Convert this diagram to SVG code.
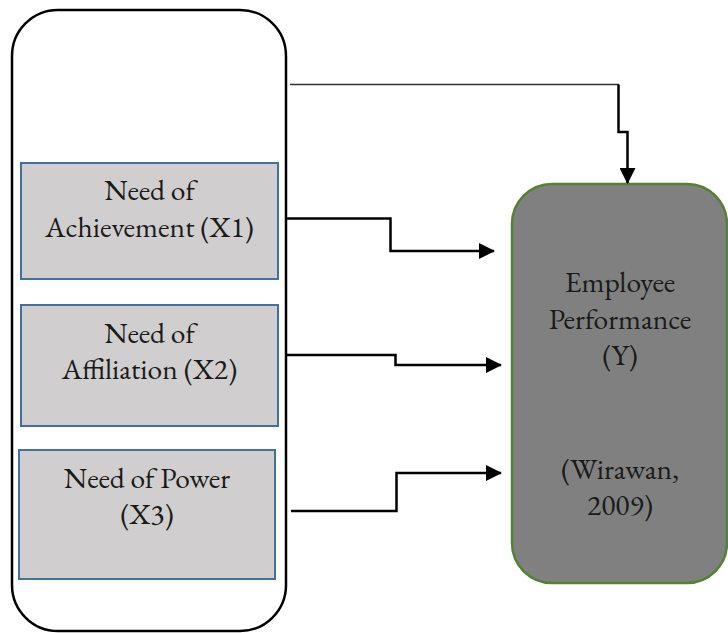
<svg xmlns="http://www.w3.org/2000/svg" width="728" height="633" viewBox="0 0 728 633">
<defs>
<marker id="arrB" viewBox="0 0 16 16" markerWidth="16" markerHeight="16" refX="15" refY="8" orient="auto" markerUnits="userSpaceOnUse">
<path d="M0,0 L16,8 L0,16 z" fill="#000"/>
</marker>
<style>
.t{font-family:"EB Garamond","Liberation Serif","Times New Roman",serif;font-size:29.5px;fill:#1a1a1a;text-anchor:middle}
.box{fill:#d0cece;stroke:#41719c;stroke-width:2}
.c{fill:none;stroke:#000;stroke-width:2.5}
</style>
</defs>
<rect width="728" height="633" fill="#fff"/>
<g id="outer">
<rect x="12" y="10" width="274" height="621" rx="46" ry="46" fill="#fff" stroke="#000" stroke-width="2.5"/>
</g>
<g id="x1">
<rect class="box" x="21" y="163" width="257" height="116"/>
<text class="t" x="149.5" y="200">Need of</text>
<text class="t" x="149.5" y="237">Achievement (X1)</text>
</g>
<g id="x2">
<rect class="box" x="21" y="305" width="257" height="121"/>
<text class="t" x="149.5" y="343">Need of</text>
<text class="t" x="149.5" y="379">Affiliation (X2)</text>
</g>
<g id="x3">
<rect class="box" x="19" y="450" width="256" height="129"/>
<text class="t" x="147" y="488">Need of Power</text>
<text class="t" x="147" y="524">(X3)</text>
</g>
<g id="y">
<rect x="512" y="184" width="215" height="399" rx="40" ry="40" fill="#808080" stroke="#548235" stroke-width="2.5"/>
<text class="t" x="620" y="292">Employee</text>
<text class="t" x="620" y="329">Performance</text>
<text class="t" x="620" y="365">(Y)</text>
<text class="t" x="620" y="479">(Wirawan,</text>
<text class="t" x="620" y="515">2009)</text>
</g>
<g id="connectors">
<path d="M290,84.5 H619" fill="none" stroke="#333" stroke-width="1.3"/>
<path class="c" d="M618.5,84.5 V132 H627.5 V183" marker-end="url(#arrB)"/>
<path class="c" d="M286,218.5 H390.5 V251 H494" marker-end="url(#arrB)"/>
<path class="c" d="M286,355 H395.5 V365 H501" marker-end="url(#arrB)"/>
<path class="c" d="M291,511 H396.5 V473 H501" marker-end="url(#arrB)"/>
</g>
</svg>
